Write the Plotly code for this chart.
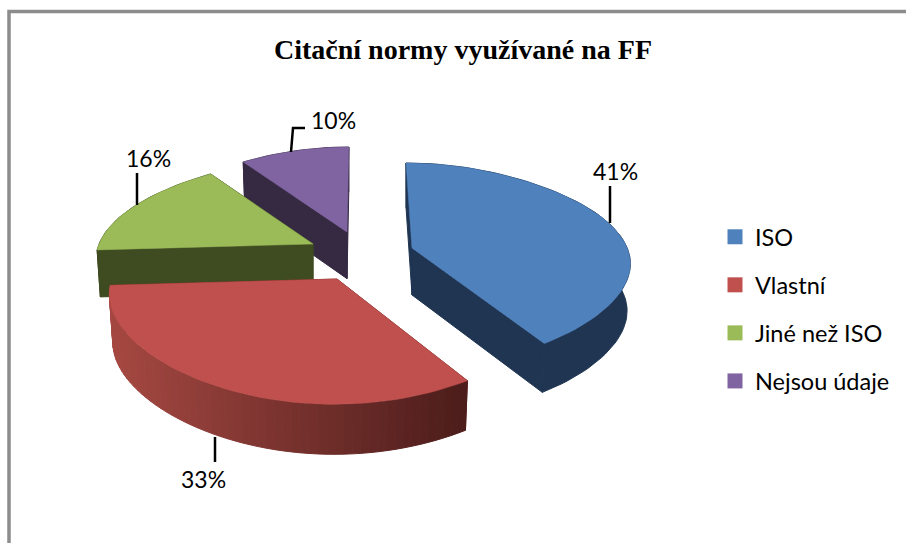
import numpy as np
import plotly.graph_objects as go

# Data
categories = ["ISO", "Vlastní", "Jiné než ISO", "Nejsou údaje"]
shares = [41, 33, 16, 10]
labels = ["41%", "33%", "16%", "10%"]

# Style
top_colors = ["#4F81BD", "#C0504D", "#9BBB59", "#8064A2"]
side_colors = ["#1F3552", "#7A302E", "#3F4B21", "#352A42"]
rim_left = np.array([0xA6, 0x48, 0x42])
rim_right = np.array([0x4C, 0x1D, 0x1B])
apex = [(412, 248), (337, 279), (313, 244), (347, 232)]   # exploded slice apex, px
label_pos = [(615, 171), (203, 479), (148, 158), (333, 120)]
W, H = 906, 543


def project(theta, c):
    """Tilted-disc projection with mild perspective; theta clockwise from top."""
    X, Y = np.sin(theta), np.cos(theta)
    s = 1 + (c[1] - 270) * 0.0014
    sf = np.where(Y < 0, 1 + (c[1] - 270) * 0.002, 1.0)
    R = 222 - 34.1 * Y - 8.1 * Y ** 2
    G = 98 * Y - 19 * Y ** 2 + 6 * Y ** 3
    lean = Y * (362 - c[0]) * 0.12
    return c[0] + s * R * X + lean, c[1] - sf * G


def depth(py):
    return 46 + (py - 200) * 0.02


def drop(x, y, c):
    """Lower edge of the slice wall below the top-face points."""
    x, y = np.asarray(x, float), np.asarray(y, float)
    return c[0] + (x - c[0]) * 0.985, y + depth(y)


def poly(fig, x, y, color, width=1.0):
    fig.add_trace(go.Scatter(x=list(x), y=list(y), mode="lines", fill="toself", fillcolor=color,
                             line=dict(color=color, width=width), showlegend=False, hoverinfo="skip"))


fig = go.Figure()
edges = np.concatenate([[0], np.cumsum(shares)]) / sum(shares) * 2 * np.pi
for i in [3, 2, 1, 0]:
    c = apex[i]
    n = max(4, int(np.degrees(edges[i + 1] - edges[i]) / 2))
    th = np.linspace(edges[i], edges[i + 1], n + 1)
    ax, ay = project(th, c)
    bx, by = drop(ax, ay, c)
    cbx, cby = drop([c[0]], [c[1]], c)
    # radial walls first
    for k in (0, -1):
        poly(fig, [c[0], ax[k], bx[k], cbx[0], c[0]], [c[1], ay[k], by[k], cby[0], c[1]], side_colors[i])
    # outer rim
    if i == 1:
        for k in range(n):
            t = np.clip(((ax[k] + ax[k + 1]) / 2 - 110) / (466 - 110), 0, 1)
            col = "rgb(%d,%d,%d)" % tuple(rim_left + (rim_right - rim_left) * t)
            poly(fig, [ax[k], ax[k + 1], bx[k + 1], bx[k], ax[k]],
                 [ay[k], ay[k + 1], by[k + 1], by[k], ay[k]], col)
    else:
        poly(fig, np.concatenate([ax, bx[::-1], ax[:1]]), np.concatenate([ay, by[::-1], ay[:1]]), side_colors[i])
    # top face
    px = np.concatenate([[c[0]], ax, [c[0]]])
    py = np.concatenate([[c[1]], ay, [c[1]]])
    fig.add_trace(go.Scatter(x=px, y=py, mode="lines", fill="toself", fillcolor=top_colors[i],
                             line=dict(color=top_colors[i], width=0.5), showlegend=False,
                             name=categories[i], hoverinfo="name"))

for i, cat in enumerate(categories):
    fig.add_trace(go.Scatter(x=[None], y=[None], mode="markers", name=cat, legendgroup=cat,
                             marker=dict(symbol="square", size=15, color=top_colors[i])))

leaders = [
    [(610, 223), (610, 186)],
    [(215, 437), (215, 462)],
    [(137, 205), (137, 173)],
    [(291, 152), (293, 128), (305, 128)],
]
shapes = [dict(type="rect", xref="x", yref="y", x0=9, y0=11.5, x1=W + 5, y1=H + 5,
               line=dict(color="#8C8C8C", width=3.5), layer="below")]
for pts in leaders:
    path = "M " + " L ".join(f"{a},{b}" for a, b in pts)
    shapes.append(dict(type="path", path=path, xref="x", yref="y",
                       line=dict(color="black", width=2.5)))

annotations = [dict(x=p[0], y=p[1], text=t, showarrow=False, xref="x", yref="y",
                    font=dict(family="Lato", size=23, color="black"))
               for p, t in zip(label_pos, labels)]
annotations.append(dict(x=463, y=49, text="<b>Citační normy využívané na FF</b>", showarrow=False,
                        xref="x", yref="y",
                        font=dict(family="Liberation Serif", size=28, color="black")))

fig.update_layout(
    width=W, height=H, margin=dict(l=0, r=0, t=0, b=0),
    paper_bgcolor="white", plot_bgcolor="white",
    xaxis=dict(range=[0, W], visible=False, domain=[0, 1]),
    yaxis=dict(range=[H, 0], visible=False, domain=[0, 1]),
    shapes=shapes, annotations=annotations,
    legend=dict(x=715 / W, y=1 - 215 / H, xanchor="left", yanchor="top",
                font=dict(family="Lato", size=23.5, color="black"),
                tracegroupgap=14.5, itemwidth=30, bgcolor="rgba(0,0,0,0)"),
    showlegend=True,
)
fig.write_html("out.html", config=dict(displayModeBar=False),
               post_script="document.body.style.margin='0';document.body.style.overflow='hidden';")
